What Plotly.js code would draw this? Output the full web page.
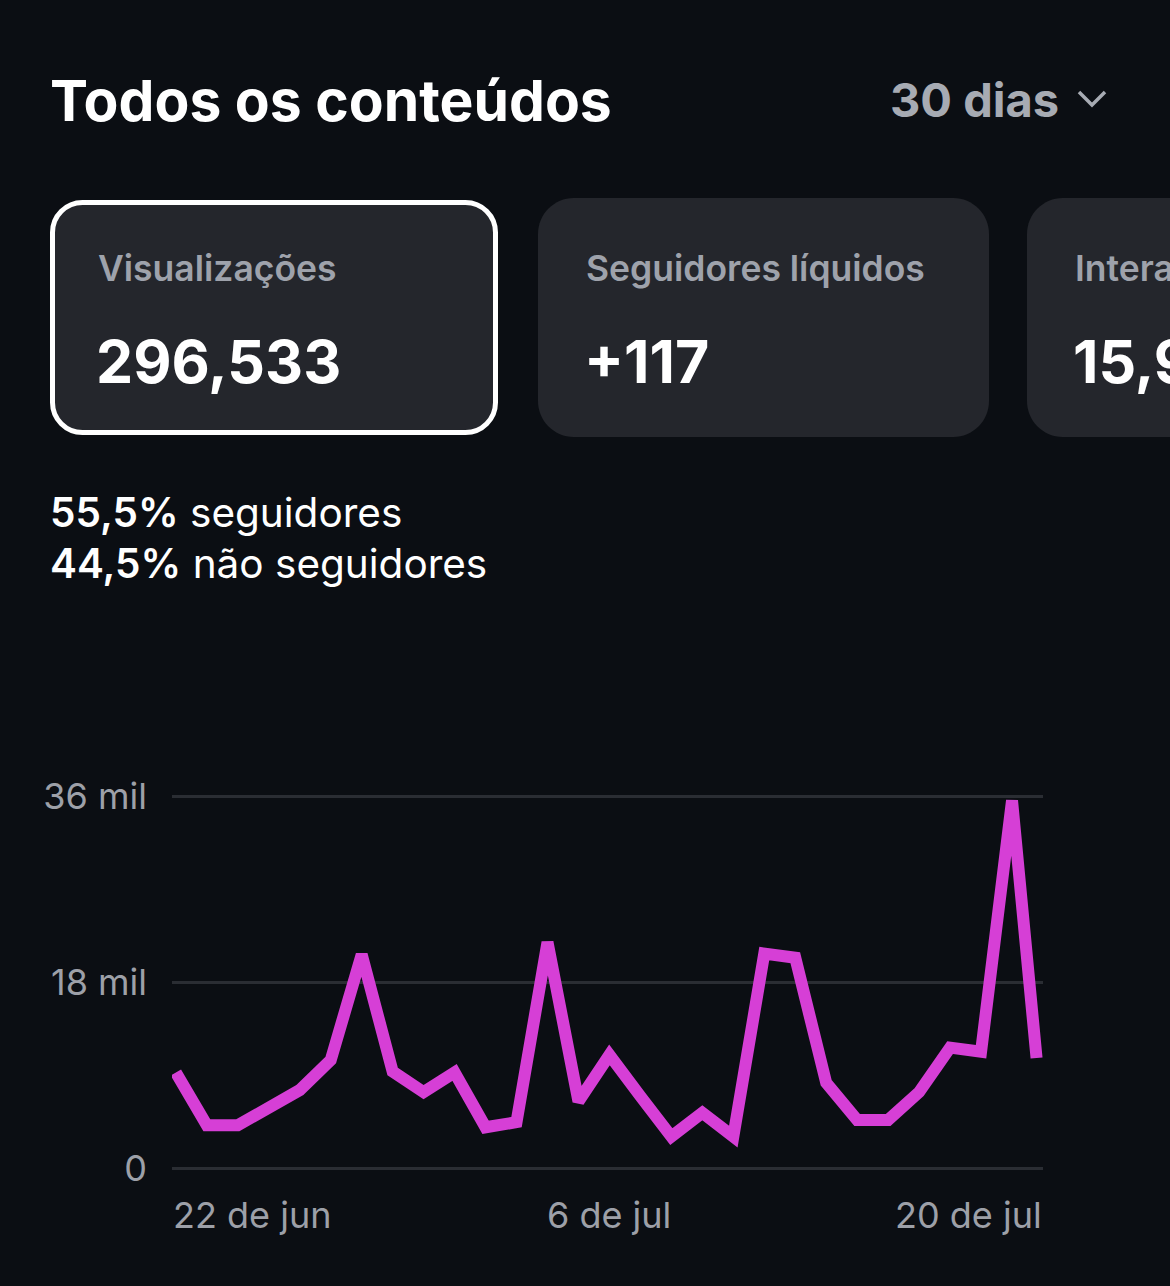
<!DOCTYPE html>
<html>
<head>
<meta charset="utf-8">
<script src="https://cdn.plot.ly/plotly-3.0.1.min.js"></script>
<style>
  html, body { margin: 0; padding: 0; background: #0b0e13; }
  #chart { width: 1170px; height: 1286px; }
</style>
</head>
<body>
<div id="chart"></div>
<script>
// ---- data ----
const dates = [
  '2025-06-22','2025-06-23','2025-06-24','2025-06-25','2025-06-26','2025-06-27','2025-06-28',
  '2025-06-29','2025-06-30','2025-07-01','2025-07-02','2025-07-03','2025-07-04','2025-07-05',
  '2025-07-06','2025-07-07','2025-07-08','2025-07-09','2025-07-10','2025-07-11','2025-07-12',
  '2025-07-13','2025-07-14','2025-07-15','2025-07-16','2025-07-17','2025-07-18','2025-07-19',
  '2025-07-19 19:00'
];
const views = [
  9300, 4200, 4200, 6000, 7600, 10500, 20700,
  9400, 7400, 9300, 4000, 4500, 21900, 6500,
  11000, 7000, 3100, 5400, 3100, 20800, 20400,
  8300, 4700, 4700, 7400, 11700, 11300, 35600,
  10700
];
const yTickVals = [0, 18000, 36000];
const yTickText = ['0', '18 mil', '36 mil'];
const xTickDates = ['2025-06-22', '2025-07-06', '2025-07-20'];
const xTickText = ['22 de jun', '6 de jul', '20 de jul'];
const xRangeDates = ['2025-06-21 21:00', '2025-07-20 00:00'];

const cardLabels = ['Visualizações', 'Seguidores líquidos', 'Interações'];
const cardValues = ['296,533', '+117', '15,912'];
const pageTitle = 'Todos os conteúdos';
const periodText = '30 dias';
const audienceLines = [['55,5%', 'seguidores'], ['44,5%', 'não seguidores']];

// ---- geometry helpers ----
const W = 1170, H = 1286;
const ml = 172, mr = 127, mt = 786, mb = 107;
const pw = W - ml - mr, ph = H - mt - mb;
const px = X => (X - ml) / pw;
const py = Y => (H - mb - Y) / ph;

function roundRect(x0, y0, x1, y1, r) {
  const k = 0.5523 * r;
  const P = (X, Y) => px(X) + ',' + py(Y);
  return 'M' + P(x0 + r, y0) +
    ' L' + P(x1 - r, y0) +
    ' C' + P(x1 - r + k, y0) + ' ' + P(x1, y0 + r - k) + ' ' + P(x1, y0 + r) +
    ' L' + P(x1, y1 - r) +
    ' C' + P(x1, y1 - r + k) + ' ' + P(x1 - r + k, y1) + ' ' + P(x1 - r, y1) +
    ' L' + P(x0 + r, y1) +
    ' C' + P(x0 + r - k, y1) + ' ' + P(x0, y1 - r + k) + ' ' + P(x0, y1 - r) +
    ' L' + P(x0, y0 + r) +
    ' C' + P(x0, y0 + r - k) + ' ' + P(x0 + r - k, y0) + ' ' + P(x0 + r, y0) + ' Z';
}

const FONT = 'Inter, "Noto Sans", "Liberation Sans", sans-serif';
const cardFill = '#24262c';

const cardBoxes = [
  [52.5, 202.5, 495.5, 432.5, 30, true],
  [538, 198, 989, 437, 36, false],
  [1027, 198, 1480, 437, 36, false]
];

const shapes = cardBoxes.map(b => ({
  type: 'path', xref: 'paper', yref: 'paper', layer: 'below',
  path: roundRect(b[0], b[1], b[2], b[3], b[4]),
  fillcolor: cardFill,
  line: { color: b[5] ? '#ffffff' : cardFill, width: b[5] ? 5 : 0 }
}));
// chevron
shapes.push({
  type: 'path', xref: 'paper', yref: 'paper',
  path: 'M' + px(1079) + ',' + py(92) + ' L' + px(1092) + ',' + py(105) + ' L' + px(1105) + ',' + py(92),
  line: { color: '#a7abb3', width: 3.5 }
});

const annotations = [];
const txt = (X, Y, text, size, color, xanchor, weight) => ({
  xref: 'paper', yref: 'paper', x: px(X), y: py(Y), text: text,
  showarrow: false, xanchor: xanchor || 'left', yanchor: 'middle',
  font: { family: FONT, size: size, color: color, weight: weight || 400 }
});

annotations.push(txt(48, 101, pageTitle, 57, '#ffffff', 'left', 700));
annotations.push(txt(1061, 100, periodText, 47, '#a7abb3', 'right', 700));

const labelX = [96, 584, 1073];
cardLabels.forEach((l, i) => {
  annotations.push(txt(labelX[i], 268, l, 35.5, '#9ea2ab', 'left', 600));
  annotations.push(txt(labelX[i] - 2, 361, cardValues[i], 59, '#ffffff', 'left', 700));
});

audienceLines.forEach((ln, i) => {
  annotations.push(txt(48, 512 + i * 51, '<span style="font-weight:600">' + ln[0] + '</span> ' + ln[1], 40.5, '#ffffff', 'left', 400));
});

const xAnchors = ['left', 'center', 'right'];
const xShift = [-5, 0, 1];
xTickDates.forEach((d, i) => {
  annotations.push({
    xref: 'x', yref: 'paper', x: d, y: py(1215), text: xTickText[i],
    showarrow: false, xanchor: xAnchors[i], yanchor: 'middle', xshift: xShift[i],
    font: { family: FONT, size: 36, color: '#9da0a8' }
  });
});

const trace = {
  type: 'scatter', mode: 'lines',
  x: dates, y: views,
  line: { color: '#d63fd6', width: 12, shape: 'linear' },
  hoverinfo: 'skip'
};

const layout = {
  width: W, height: H,
  paper_bgcolor: '#0b0e13', plot_bgcolor: '#0b0e13',
  margin: { l: ml, r: mr, t: mt, b: mb, pad: 0 },
  showlegend: false,
  xaxis: {
    type: 'date',
    range: xRangeDates,
    showgrid: false, zeroline: false, showline: false,
    showticklabels: false, ticks: ''
  },
  yaxis: {
    range: [-1000, 37000],
    tickvals: yTickVals, ticktext: yTickText,
    showgrid: true, gridcolor: '#2a2d33', gridwidth: 3,
    zeroline: false, showline: false, ticks: '',
    ticklabelstandoff: 24,
    tickfont: { family: FONT, size: 36, color: '#9da0a8' }
  },
  shapes: shapes,
  annotations: annotations
};

Plotly.newPlot('chart', [trace], layout, { displayModeBar: false, staticPlot: true });
</script>
</body>
</html>
